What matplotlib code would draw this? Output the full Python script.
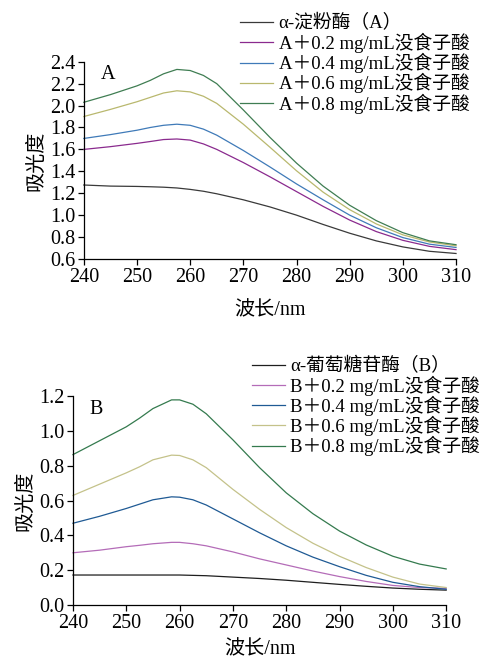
import matplotlib
matplotlib.use("Agg")
import matplotlib.pyplot as plt

FONT = ["Liberation Serif", "Noto Sans CJK SC", "DejaVu Sans"]
plt.rcParams.update({
    "font.family": FONT,
    "font.size": 13,
    "axes.linewidth": 0.9,
    "xtick.direction": "out", "ytick.direction": "out",
    "xtick.major.size": 4, "ytick.major.size": 4,
    "xtick.major.width": 0.9, "ytick.major.width": 0.9,
    "xtick.major.pad": 2.5, "ytick.major.pad": 2,
    "xtick.labelsize": 14.5, "ytick.labelsize": 14.5,
})

# --- data -------------------------------------------------------------------
wl_a = [240, 245, 250, 252.5, 255, 257.5, 260, 262.5, 265, 270, 275, 280, 285, 290, 295, 300, 305, 310]
a_enzyme = [1.275, 1.265, 1.262, 1.259, 1.255, 1.248, 1.235, 1.218, 1.195, 1.14, 1.075, 1.0, 0.915, 0.835, 0.765, 0.71, 0.67, 0.65]
a_02 = [1.60, 1.625, 1.655, 1.672, 1.69, 1.695, 1.685, 1.65, 1.60, 1.48, 1.35, 1.215, 1.08, 0.955, 0.85, 0.77, 0.715, 0.685]
a_04 = [1.70, 1.735, 1.775, 1.80, 1.82, 1.83, 1.82, 1.785, 1.73, 1.59, 1.44, 1.285, 1.14, 1.0, 0.885, 0.795, 0.735, 0.705]
a_06 = [1.90, 1.965, 2.035, 2.075, 2.115, 2.135, 2.125, 2.085, 2.02, 1.83, 1.62, 1.405, 1.21, 1.05, 0.92, 0.82, 0.755, 0.72]
a_08 = [2.03, 2.10, 2.18, 2.23, 2.29, 2.33, 2.32, 2.275, 2.20, 1.96, 1.71, 1.475, 1.265, 1.09, 0.95, 0.84, 0.765, 0.73]

wl_b = [240, 245, 250, 252.5, 255, 258.5, 260, 262.5, 265, 270, 275, 280, 285, 290, 295, 300, 305, 310]
b_enzyme = [0.172, 0.172, 0.172, 0.172, 0.172, 0.172, 0.172, 0.170, 0.168, 0.16, 0.152, 0.142, 0.13, 0.118, 0.107, 0.097, 0.09, 0.085]
b_02 = [0.30, 0.315, 0.335, 0.343, 0.352, 0.36, 0.36, 0.352, 0.34, 0.305, 0.265, 0.23, 0.195, 0.163, 0.135, 0.112, 0.10, 0.095]
b_04 = [0.47, 0.51, 0.555, 0.58, 0.605, 0.622, 0.62, 0.605, 0.575, 0.495, 0.415, 0.34, 0.275, 0.22, 0.17, 0.13, 0.105, 0.09]
b_06 = [0.63, 0.695, 0.76, 0.795, 0.835, 0.862, 0.86, 0.835, 0.79, 0.665, 0.55, 0.445, 0.355, 0.28, 0.215, 0.16, 0.12, 0.10]
b_08 = [0.865, 0.945, 1.025, 1.075, 1.13, 1.18, 1.18, 1.155, 1.10, 0.95, 0.79, 0.645, 0.525, 0.425, 0.345, 0.28, 0.235, 0.207]

labels_a = ["α-淀粉酶（A）", "A＋0.2 mg/mL没食子酸", "A＋0.4 mg/mL没食子酸",
            "A＋0.6 mg/mL没食子酸", "A＋0.8 mg/mL没食子酸"]
labels_b = ["α-葡萄糖苷酶（B）", "B＋0.2 mg/mL没食子酸", "B＋0.4 mg/mL没食子酸",
            "B＋0.6 mg/mL没食子酸", "B＋0.8 mg/mL没食子酸"]

colors_a = ["#3a3a3a", "#8a2a8e", "#3f7ab8", "#b9b86e", "#3f7d52"]
colors_b = ["#1e1e1e", "#b46cb8", "#1f5a94", "#c4c28a", "#347a4e"]

xticks = [240, 250, 260, 270, 280, 290, 300, 310]


def panel(rect, wl, series, colors, labels, ylim, yticks, fmt, tag, leg_anchor, xpad):
    ax = fig.add_axes(rect)
    for ys, c, lab in zip(series, colors, labels):
        ax.plot(wl, ys, color=c, linewidth=0.9, label=lab, clip_on=False)
    ax.set_xlim(240, 310)
    ax.set_ylim(*ylim)
    ax.set_xticks(xticks)
    ax.set_yticks(yticks)
    ax.set_yticklabels([fmt.format(v) for v in yticks])
    for side in ("top", "right"):
        ax.spines[side].set_visible(False)
    ax.set_xlabel("波长/nm", fontsize=14.5, labelpad=xpad)
    ax.set_ylabel("吸光度", fontsize=14.5, labelpad=3)
    ax.text(0.045, 0.985, tag, transform=ax.transAxes, fontsize=14.5,
            ha="left", va="top")
    fig.legend(loc="upper left", bbox_to_anchor=leg_anchor, frameon=False,
               handles=ax.get_lines(), fontsize=13.5, handlelength=1.75,
               handletextpad=0.3, labelspacing=0.0, borderpad=0,
               borderaxespad=0)
    return ax


fig = plt.figure(figsize=(4.93, 6.64), dpi=100)

panel([0.170, 0.610, 0.755, 0.297], wl_a, [a_enzyme, a_02, a_04, a_06, a_08],
      colors_a, labels_a, (0.6, 2.4),
      [0.6, 0.8, 1.0, 1.2, 1.4, 1.6, 1.8, 2.0, 2.2, 2.4], "{:.1f}", "A",
      (0.487, 0.978), 10)
panel([0.148, 0.089, 0.757, 0.314], wl_b, [b_enzyme, b_02, b_04, b_06, b_08],
      colors_b, labels_b, (0.0, 1.2),
      [0.0, 0.2, 0.4, 0.6, 0.8, 1.0, 1.2], "{:.1f}", "B",
      (0.511, 0.462), 5)

fig.savefig("out.png", dpi=100)
